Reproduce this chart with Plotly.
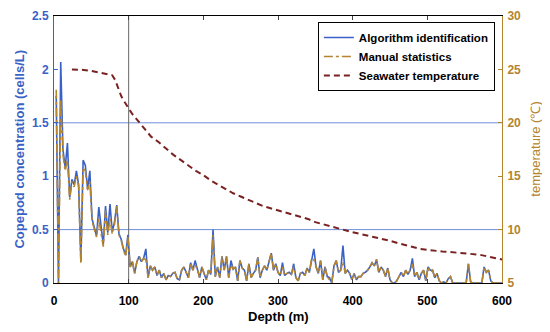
import plotly.graph_objects as go

# ---------------- data ----------------
depth = list(range(3, 601, 3))  # sampling depths (m)

manual = [
    1.81, 0.0, 1.72, 1.2, 1.05, 1.15, 0.78, 0.95, 0.9, 1.0,
    0.9, 0.18, 1.08, 1.05, 0.87, 0.95, 0.58, 0.5, 0.43, 0.6,
    0.48, 0.34, 0.68, 0.45, 0.6, 0.46, 0.55, 0.72, 0.45, 0.4,
    0.31, 0.25, 0.43, 0.15, 0.2, 0.09, 0.2, 0.25, 0.2, 0.23,
    0.22, 0.05, 0.16, 0.12, 0.15, 0.07, 0.12, 0.05, 0.09, 0.03,
    0.07, 0.06, 0.09, 0.1, 0.04, 0.03, 0.12, 0.15, 0.1, 0.05,
    0.19, 0.12, 0.17, 0.13, 0.05, 0.15, 0.09, 0.03, 0.12, 0.08,
    0.45, 0.06, 0.15, 0.05, 0.25, 0.12, 0.25, 0.05, 0.17, 0.13,
    0.15, 0.02, 0.21, 0.14, 0.12, 0.02, 0.18, 0.05, 0.09, 0.12,
    0.24, 0.05, 0.12, 0.16, 0.12, 0.21, 0.28, 0.12, 0.18, 0.1,
    0.07, 0.15, 0.07, 0.09, 0.1, 0.08, 0.15, 0.05, 0.02, 0.09,
    0.1, 0.07, 0.14, 0.1, 0.23, 0.22, 0.15, 0.09, 0.21, 0.03,
    0.15, 0.06, 0.03, 0.0, 0.16, 0.21, 0.1, 0.12, 0.2, 0.09,
    0.12, 0.09, 0.03, 0.09, 0.03, 0.06, 0.06, 0.09, 0.1, 0.12,
    0.15, 0.19, 0.16, 0.22, 0.1, 0.15, 0.12, 0.06, 0.14, 0.03,
    0.0, 0.0, 0.02, 0.06, 0.1, 0.06, 0.12, 0.08, 0.12, 0.18,
    0.06, 0.1, 0.03, 0.09, 0.12, 0.02, 0.15, 0.1, 0.12, 0.05,
    0.09, 0.02, 0.0, 0.01, 0.0, 0.04, 0.06, 0.0, 0.0, 0.0,
    0.0, 0.0, 0.0, 0.0, 0.18, 0.01, 0.0, 0.0, 0.0, 0.0,
    0.0, 0.15, 0.1, 0.12, 0.02, 0.0, 0.0, 0.0, 0.0, 0.0,
]

algorithm = [
    1.75, 0.0, 2.07, 1.25, 1.08, 1.31, 0.8, 0.97, 0.92, 1.05,
    0.92, 0.2, 1.15, 1.1, 0.88, 1.05, 0.6, 0.52, 0.44, 0.71,
    0.5, 0.36, 0.72, 0.47, 0.74, 0.48, 0.57, 0.73, 0.46, 0.41,
    0.32, 0.26, 0.45, 0.15, 0.2, 0.09, 0.2, 0.25, 0.2, 0.23,
    0.32, 0.05, 0.16, 0.12, 0.15, 0.07, 0.12, 0.05, 0.09, 0.03,
    0.07, 0.06, 0.09, 0.1, 0.04, 0.03, 0.12, 0.15, 0.1, 0.05,
    0.19, 0.12, 0.21, 0.13, 0.05, 0.15, 0.09, 0.03, 0.12, 0.08,
    0.5, 0.06, 0.15, 0.05, 0.25, 0.12, 0.25, 0.05, 0.21, 0.13,
    0.15, 0.02, 0.21, 0.14, 0.12, 0.02, 0.18, 0.05, 0.09, 0.12,
    0.24, 0.05, 0.12, 0.16, 0.12, 0.21, 0.28, 0.12, 0.18, 0.1,
    0.07, 0.19, 0.07, 0.09, 0.1, 0.08, 0.18, 0.05, 0.02, 0.09,
    0.1, 0.07, 0.14, 0.1, 0.23, 0.32, 0.15, 0.09, 0.21, 0.03,
    0.15, 0.06, 0.05, 0.0, 0.16, 0.21, 0.1, 0.12, 0.35, 0.09,
    0.12, 0.09, 0.03, 0.09, 0.03, 0.06, 0.06, 0.09, 0.1, 0.12,
    0.15, 0.19, 0.16, 0.22, 0.1, 0.15, 0.12, 0.06, 0.14, 0.03,
    0.0, 0.0, 0.02, 0.06, 0.1, 0.06, 0.12, 0.08, 0.12, 0.23,
    0.06, 0.1, 0.03, 0.09, 0.12, 0.02, 0.15, 0.12, 0.12, 0.05,
    0.09, 0.02, 0.0, 0.01, 0.0, 0.04, 0.06, 0.0, 0.0, 0.0,
    0.0, 0.0, 0.0, 0.0, 0.18, 0.01, 0.0, 0.0, 0.0, 0.0,
    0.0, 0.15, 0.1, 0.12, 0.02, 0.0, 0.0, 0.0, 0.0, 0.0,
]

temp_depth = [24, 30, 40, 50, 60, 70, 78, 82, 86, 90, 95, 100, 105, 110,
              120, 130, 140, 150, 160, 170, 180, 190, 200, 210,
              220, 230, 240, 250, 260, 270, 280, 290, 300, 310,
              320, 330, 340, 350, 360, 370, 380, 390, 400, 410,
              420, 430, 440, 450, 460, 470, 480, 490, 500, 510,
              520, 530, 540, 550, 560, 570, 580, 590, 600]
temperature = [25.0, 25.0, 24.95, 24.85, 24.7, 24.55, 24.45, 24.0, 23.3, 22.5,
               21.9, 21.3, 20.8, 20.4,
               19.6, 18.7, 18.2, 17.6, 17.0, 16.5, 16.0, 15.5, 15.1, 14.6,
               14.2, 13.8, 13.4, 13.1, 12.8, 12.5, 12.2, 12.0, 11.8, 11.6,
               11.4, 11.2, 11.0, 10.7, 10.5, 10.3, 10.1, 9.9, 9.75, 9.6,
               9.45, 9.3, 9.1, 8.95, 8.75, 8.55, 8.35, 8.2, 8.1, 8.0,
               7.95, 7.9, 7.85, 7.8, 7.75, 7.65, 7.5, 7.35, 7.2]

x_ticks = [0, 100, 200, 300, 400, 500, 600]
y_ticks = [0, 0.5, 1, 1.5, 2, 2.5]
y_tick_text = ["0", "0.5", "1", "1.5", "2", "2.5"]
y2_ticks = [5, 10, 15, 20, 25, 30]
grid_y = [0.5, 1.5]
grid_x = [100]

# ---------------- style ----------------
BLUE = "#3A62C6"
OCHRE = "#B5842E"
TEMP = "#7A2222"
GRID = "#6F8FDA"
FONT = "Liberation Sans, Arial, sans-serif"

fig = go.Figure()
fig.add_trace(go.Scatter(x=depth, y=algorithm, mode="lines", name="Algorithm identification",
                         line=dict(color=BLUE, width=1.6)))
fig.add_trace(go.Scatter(x=depth, y=manual, mode="lines", name="Manual statistics",
                         line=dict(color=OCHRE, width=1.6, dash="dashdot")))
fig.add_trace(go.Scatter(x=temp_depth, y=temperature, mode="lines", name="Seawater temperature",
                         yaxis="y2", line=dict(color=TEMP, width=2, dash="6px,4px")))

shapes = []
for g in grid_y:
    shapes.append(dict(type="line", xref="paper", yref="y", x0=0, x1=1, y0=g, y1=g,
                       line=dict(color=GRID, width=1), layer="below"))
for g in grid_x:
    shapes.append(dict(type="line", xref="x", yref="paper", x0=g, x1=g, y0=0, y1=1,
                       line=dict(color="#666666", width=1), layer="below"))

annotations = [
    dict(text="Copepod concentration (cells/L)", xref="paper", yref="paper",
         x=-0.078, y=0.5, textangle=-90, showarrow=False, xanchor="center", yanchor="middle",
         font=dict(family=FONT, size=13, color=BLUE, weight="bold")),
    dict(text="temperature (℃)", xref="paper", yref="paper",
         x=1.074, y=0.5, textangle=-90, showarrow=False, xanchor="center", yanchor="middle",
         font=dict(family=FONT, size=13, color=OCHRE)),
    dict(text="Depth (m)", xref="paper", yref="paper",
         x=0.5, y=-0.127, showarrow=False, xanchor="center", yanchor="middle",
         font=dict(family=FONT, size=13, color="black", weight="bold")),
]

fig.update_layout(
    width=542, height=324,
    margin=dict(l=46, r=48, t=8, b=49, autoexpand=False),
    paper_bgcolor="white", plot_bgcolor="white",
    font=dict(family=FONT, size=12, color="black"),
    shapes=shapes,
    annotations=annotations,
    showlegend=True,
    legend=dict(x=0.589, y=0.9775, xanchor="left", yanchor="top",
                bgcolor="white", bordercolor="black", borderwidth=1,
                font=dict(family=FONT, size=11.5, color="black", weight="bold"),
                tracegroupgap=0, itemwidth=30),
    xaxis=dict(range=[0, 600], tickvals=x_ticks, ticks="inside", ticklen=4,
               showline=True, linecolor="black", linewidth=1, mirror="ticks",
               showgrid=False, zeroline=False, automargin=False, ticklabelstandoff=7,
               tickfont=dict(family=FONT, size=12, color="black", weight="bold")),
    yaxis=dict(range=[0, 2.5], tickvals=y_ticks, ticktext=y_tick_text, ticks="inside", ticklen=4,
               showline=True, linecolor=BLUE, linewidth=1, tickcolor=BLUE,
               showgrid=False, zeroline=False, automargin=False, ticklabelstandoff=2,
               tickfont=dict(family=FONT, size=12, color=BLUE, weight="bold")),
    yaxis2=dict(range=[5, 30], tickvals=y2_ticks, overlaying="y", side="right",
                ticks="inside", ticklen=4, showline=True, linecolor=OCHRE, linewidth=1,
                tickcolor=OCHRE, showgrid=False, zeroline=False, automargin=False,
                ticklabelstandoff=2,
                tickfont=dict(family=FONT, size=12, color=OCHRE, weight="bold")),
)

fig.write_html("out.html")
